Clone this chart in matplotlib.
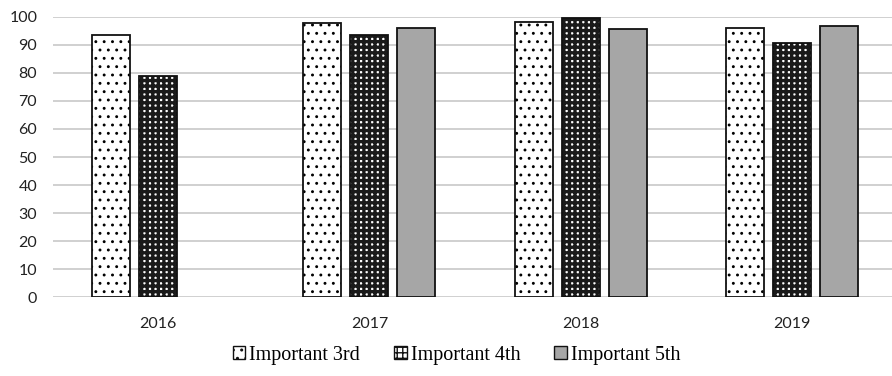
import numpy as np
import matplotlib
matplotlib.use('Agg')
import matplotlib.pyplot as plt
from matplotlib.patches import Patch


years = ['2016', '2017', '2018', '2019']
series = ['Important 3rd', 'Important 4th', 'Important 5th']
imp_3rd = [93.5, 97.9, 98.0, 96.1]
imp_4th = [78.8, 93.4, 99.4, 90.5]
imp_5th = [np.nan, 96.1, 95.5, 96.8]

# face colour, hatch colour, hatch pattern, hatch line width
styles = [
    ('white', 'black', '..', 0.9),
    ('white', '#1a1a1a', '+++', 2.4),
    ('#a6a6a6', '#a6a6a6', '', 1.0),
]

fig = plt.figure(figsize=(8.92, 3.76), dpi=100)
ax = fig.add_axes([52.5 / 892, 1 - 297.3 / 376, 1 - 52.5 / 892, (297.3 - 16.7) / 376])

x = np.arange(len(years))
width = 0.18
step = 0.2225

for k, (vals, (fc, hc, hatch, hlw)) in enumerate(zip([imp_3rd, imp_4th, imp_5th], styles)):
    pos = x + (k - 1) * step
    with plt.rc_context({'hatch.linewidth': hlw}):
        ax.bar(pos, vals, width, color=fc, edgecolor=hc, hatch=hatch, linewidth=0, zorder=2)
    ax.bar(pos, vals, width, fill=False, edgecolor='#111111', linewidth=1.3, zorder=3)

ax.set_ylim(0, 100)
ax.set_xlim(-0.5, 3.473)
ax.set_yticks(np.arange(0, 101, 10))
ax.set_xticks(x)
ax.set_xticklabels(years)
ax.grid(axis='y', color='#d0d0d0', linewidth=1.4, zorder=0)
ax.set_axisbelow(True)
for s in ['top', 'right', 'left', 'bottom']:
    ax.spines[s].set_visible(False)
ax.tick_params(length=0, labelsize=11.5, colors='#222222', pad=11)
ax.tick_params(axis='x', pad=14)
for lab in ax.get_xticklabels() + ax.get_yticklabels():
    lab.set_family('Lato')

handles = []
for name, (fc, hc, hatch, hlw) in zip(series, styles):
    handles.append(Patch(facecolor=fc, edgecolor='#111111', hatch=hatch, linewidth=1.0, label=name))
with plt.rc_context({'hatch.linewidth': 1.0}):
    leg = fig.legend(handles=handles, loc='center', bbox_to_anchor=(0.512, 0.055), ncol=3,
                     frameon=False, prop={'family': 'Liberation Serif', 'size': 14.5},
                     handlelength=0.6, handleheight=0.6, handletextpad=0.2, columnspacing=1.7)

fig.savefig('out.png', dpi=100)
